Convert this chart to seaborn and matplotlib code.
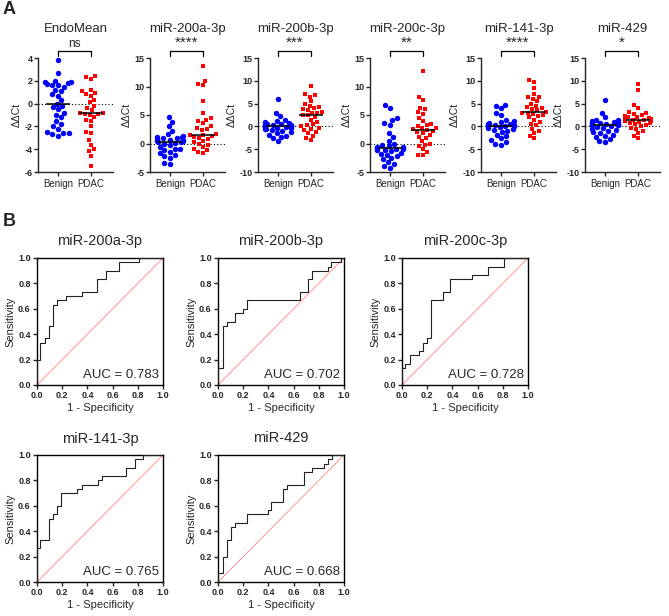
import numpy as np
import pandas as pd
import matplotlib
matplotlib.use('Agg')
import matplotlib.pyplot as plt
import matplotlib.transforms as mtrans
import seaborn as sns

sns.set_theme(style='ticks')
plt.rcParams['font.family'] = ['Liberation Sans', 'DejaVu Sans']
plt.rcParams['axes.unicode_minus'] = False

W, H = 669, 616
groups = ['Benign', 'PDAC']

# ---- panel A: delta-delta-Ct per target ----
targets = ['EndoMean', 'miR-200a-3p', 'miR-200b-3p', 'miR-200c-3p', 'miR-141-3p', 'miR-429']
signif = ['ns', '****', '***', '**', '****', '*']

endo_benign = [3.8, 2.7, 2.0, 1.9, 1.9, 1.8, 1.7, 1.6, 1.6, 1.5, 1.2, 1.1, 0.8, 0.7, 0.3, 0.0,
               -0.2, -0.3, -0.5, -0.8, -1.0, -1.2, -1.5, -1.8, -2.0, -2.2, -2.5, -2.6, -2.6, -2.7, -2.8]
endo_pdac = [2.4, 2.3, 2.2, 1.2, 1.1, 0.9, 0.8, 0.7, 0.3, 0.1, -0.2, -0.4, -0.6, -0.8, -0.8,
             -0.9, -0.9, -1.0, -1.2, -1.4, -1.5, -2.0, -2.5, -2.6, -3.2, -3.6, -4.0, -4.2, -4.6, -5.5]
m200a_benign = [4.6, 3.8, 3.0, 2.2, 1.6, 1.3, 1.2, 1.1, 1.0, 0.9, 0.8, 0.7, 0.6, 0.5, 0.4, 0.3,
                0.2, 0.1, 0.0, -0.3, -0.6, -0.9, -1.0, -1.2, -1.5, -1.7, -2.0, -2.2, -2.5, -3.4, -3.6]
m200a_pdac = [13.6, 11.0, 10.5, 10.2, 7.5, 5.3, 4.4, 4.2, 4.0, 3.6, 3.0, 2.8, 2.5, 2.3, 1.6,
              1.5, 1.5, 1.3, 1.2, 1.0, 0.8, 0.5, 0.2, 0.0, -0.3, -0.6, -1.0, -1.2, -1.5, -1.6]
m200b_benign = [6.0, 3.0, 2.2, 1.5, 1.2, 1.0, 0.8, 0.6, 0.5, 0.4, 0.3, 0.2, 0.1, 0.0, 0.0, 0.0,
                -0.1, -0.2, -0.3, -0.4, -0.5, -0.6, -0.8, -1.0, -1.2, -1.5, -1.8, -2.0, -2.3, -2.6, -3.3]
m200b_pdac = [8.8, 7.0, 6.8, 6.5, 5.5, 5.0, 4.5, 4.3, 4.0, 3.8, 3.5, 3.2, 3.0, 3.0, 2.5,
              2.4, 2.0, 1.5, 1.0, 0.5, 0.2, 0.0, -0.3, -0.5, -0.8, -1.2, -1.5, -2.0, -2.5, -3.0]
m200c_benign = [6.7, 6.2, 4.4, 4.2, 3.6, 3.3, 1.8, 1.2, 0.5, 0.0, -0.3, -0.5, -0.6, -0.7, -0.8, -0.8,
                -0.9, -1.0, -1.1, -1.2, -1.4, -1.6, -1.8, -2.0, -2.2, -2.5, -2.8, -3.3, -3.6, -4.0, -4.3]
m200c_pdac = [12.8, 8.2, 7.6, 6.3, 6.0, 5.5, 5.2, 4.5, 4.0, 3.5, 3.2, 3.0, 2.8, 2.7, 2.5,
              2.3, 2.2, 2.0, 1.8, 1.5, 1.2, 1.0, 0.5, 0.0, -0.2, -0.5, -1.0, -1.5, -2.0, -2.0]
m141_benign = [4.7, 4.5, 4.0, 3.0, 2.5, 1.5, 1.2, 1.0, 0.8, 0.6, 0.5, 0.4, 0.3, 0.2, 0.1, 0.1,
               0.0, 0.0, -0.2, -0.4, -0.6, -0.8, -1.0, -1.3, -1.8, -2.2, -2.6, -3.0, -3.5, -3.8, -4.0]
m141_pdac = [10.2, 9.8, 8.5, 7.2, 6.5, 6.5, 6.0, 5.5, 5.0, 4.5, 4.2, 4.0, 3.8, 3.5, 3.2,
             3.0, 3.0, 2.8, 2.5, 2.2, 2.0, 1.5, 1.0, 0.5, 0.2, -0.5, -1.0, -1.5, -2.0, -2.6]
m429_benign = [5.8, 3.0, 2.0, 1.5, 1.4, 1.2, 1.0, 0.9, 0.8, 0.7, 0.6, 0.5, 0.5, 0.4, 0.4, 0.4,
               0.2, 0.0, -0.2, -0.4, -0.6, -0.8, -1.0, -1.2, -1.5, -1.8, -2.0, -2.3, -2.8, -3.2, -3.4]
m429_pdac = [9.2, 8.0, 4.8, 4.0, 3.2, 3.0, 2.8, 2.5, 2.2, 2.0, 2.0, 1.8, 1.6, 1.5, 1.4,
             1.3, 1.2, 1.1, 1.0, 0.8, 0.7, 0.5, 0.3, 0.0, -0.3, -0.5, -1.0, -1.5, -2.0, -2.6]

benign_vals = [endo_benign, m200a_benign, m200b_benign, m200c_benign, m141_benign, m429_benign]
pdac_vals = [endo_pdac, m200a_pdac, m200b_pdac, m200c_pdac, m141_pdac, m429_pdac]
y_limits = [(-6, 4), (-5, 15), (-10, 15), (-5, 15), (-10, 15), (-10, 15)]
y_steps = [2, 5, 5, 5, 5, 5]

# ---- panel B: ROC step curves ----
roc_names = ['miR-200a-3p', 'miR-200b-3p', 'miR-200c-3p', 'miR-141-3p', 'miR-429']
roc_auc = ['0.783', '0.702', '0.728', '0.765', '0.668']
fpr_200a = [0, 0, 0.026, 0.06, 0.097, 0.126, 0.158, 0.229, 0.355, 0.48, 0.55, 0.65, 0.81, 1.0]
tpr_200a = [0, 0.2, 0.333, 0.367, 0.467, 0.633, 0.667, 0.7, 0.733, 0.833, 0.9, 0.967, 1.0, 1.0]
fpr_200b = [0, 0, 0.042, 0.068, 0.135, 0.198, 0.229, 0.648, 0.714, 0.745, 0.87, 0.90, 0.98, 1.0]
tpr_200b = [0, 0.133, 0.467, 0.5, 0.567, 0.6, 0.667, 0.733, 0.833, 0.9, 0.933, 0.967, 1.0, 1.0]
fpr_200c = [0, 0, 0.026, 0.06, 0.131, 0.166, 0.197, 0.229, 0.324, 0.382, 0.553, 0.684, 0.81, 1.0]
tpr_200c = [0, 0.133, 0.167, 0.233, 0.267, 0.333, 0.367, 0.667, 0.733, 0.833, 0.867, 0.933, 1.0, 1.0]
fpr_141 = [0, 0, 0.026, 0.097, 0.126, 0.158, 0.19, 0.321, 0.355, 0.487, 0.518, 0.71, 0.776, 0.842, 1.0]
tpr_141 = [0, 0.267, 0.333, 0.5, 0.533, 0.6, 0.7, 0.733, 0.767, 0.8, 0.833, 0.9, 0.967, 1.0, 1.0]
fpr_429 = [0, 0, 0.04, 0.07, 0.107, 0.138, 0.229, 0.393, 0.424, 0.518, 0.549, 0.685, 0.745, 0.844, 0.875, 0.906, 1.0]
tpr_429 = [0, 0.067, 0.2, 0.333, 0.433, 0.467, 0.533, 0.567, 0.633, 0.733, 0.767, 0.867, 0.9, 0.933, 0.967, 1.0, 1.0]
roc_fpr = [fpr_200a, fpr_200b, fpr_200c, fpr_141, fpr_429]
roc_tpr = [tpr_200a, tpr_200b, tpr_200c, tpr_141, tpr_429]

fig = plt.figure(figsize=(W / 100, H / 100), dpi=100)


def px_axes(left, top, width, height):
    return fig.add_axes([left / W, 1 - (top + height) / H, width / W, height / H])


a_lefts = [38, 150, 258, 370, 481, 585]
for i, name in enumerate(targets):
    ax = px_axes(a_lefts[i], 58, 75, 114)
    df = pd.DataFrame({'group': ['Benign'] * len(benign_vals[i]) + ['PDAC'] * len(pdac_vals[i]),
                       'val': benign_vals[i] + pdac_vals[i]})
    sns.swarmplot(data=df[df.group == 'Benign'], x='group', y='val', order=groups,
                  color='#0000ff', marker='o', size=3.9, linewidth=0, ax=ax, zorder=3)
    sns.swarmplot(data=df[df.group == 'PDAC'], x='group', y='val', order=groups,
                  color='#ff0000', marker='s', size=3.5, linewidth=0, ax=ax, zorder=3)
    for j, g in enumerate(groups):
        med = np.median(df.val[df.group == g])
        ax.hlines(med, j - 0.36, j + 0.36, color='black', lw=1.1, zorder=4)
    ax.axhline(0, color='black', ls=(0, (1, 2)), lw=0.8, zorder=1)
    ax.set_xlim(-0.6, 1.67)
    ax.set_ylim(*y_limits[i])
    ax.set_yticks(np.arange(y_limits[i][0], y_limits[i][1] + 0.1, y_steps[i]))
    ax.set_xlabel('')
    ax.set_ylabel('ΔΔCt', fontsize=7.5, labelpad=2)
    ax.set_title(name, fontsize=9.5, pad=19)
    sns.despine(ax=ax)
    for s in ['left', 'bottom']:
        ax.spines[s].set_linewidth(1)
    ax.tick_params(axis='y', labelsize=6.5, length=3, width=1, pad=1)
    ax.tick_params(axis='x', labelsize=7, length=3, width=1, pad=2)
    for lab in ax.get_yticklabels():
        lab.set_fontweight('bold')
    trans = mtrans.blended_transform_factory(ax.transData, ax.transAxes)
    ax.plot([0, 0, 1, 1], [1.015, 1.06, 1.06, 1.015], transform=trans,
            color='black', lw=0.9, clip_on=False)
    ax.text(0.5, 1.07, signif[i], transform=trans, ha='center', va='bottom',
            fontsize=8.5 if signif[i] == 'ns' else 11)

b_pos = [(37, 258), (218, 258), (402, 258), (37, 455), (218, 455)]
for i, name in enumerate(roc_names):
    ax = px_axes(b_pos[i][0], b_pos[i][1], 126, 127)
    ax.plot([0, 1], [0, 1], color='#ff8080', lw=0.6, zorder=1)
    sns.lineplot(x=roc_fpr[i], y=roc_tpr[i], sort=False, estimator=None,
                 drawstyle='steps-post', color='#222222', lw=0.8, ax=ax, zorder=3)
    ax.set_xlim(0, 1)
    ax.set_ylim(0, 1)
    ticks = np.round(np.arange(0, 1.01, 0.2), 1)
    ax.set_xticks(ticks)
    ax.set_yticks(ticks)
    ax.set_xticklabels([f'{t:.1f}' for t in ticks])
    ax.set_yticklabels([f'{t:.1f}' for t in ticks])
    for s in ax.spines.values():
        s.set_linewidth(1)
        s.set_color('black')
    ax.tick_params(labelsize=6.5, length=3, width=1, pad=1.5)
    for lab in ax.get_xticklabels() + ax.get_yticklabels():
        lab.set_fontweight('bold')
    ax.set_xlabel('1 - Specificity', fontsize=8, labelpad=2)
    ax.set_ylabel('Sensitivity', fontsize=8, labelpad=2)
    ax.set_title(name, fontsize=10.5, pad=9)
    ax.text(0.97, 0.03, 'AUC = ' + roc_auc[i], transform=ax.transAxes,
            ha='right', va='bottom', fontsize=9.5)

fig.text(3 / W, 1 - 10 / H, 'A', fontsize=13, fontweight='bold', va='center')
fig.text(3 / W, 1 - 222 / H, 'B', fontsize=13, fontweight='bold', va='center')

fig.savefig('out.png', dpi=100, facecolor='white')
